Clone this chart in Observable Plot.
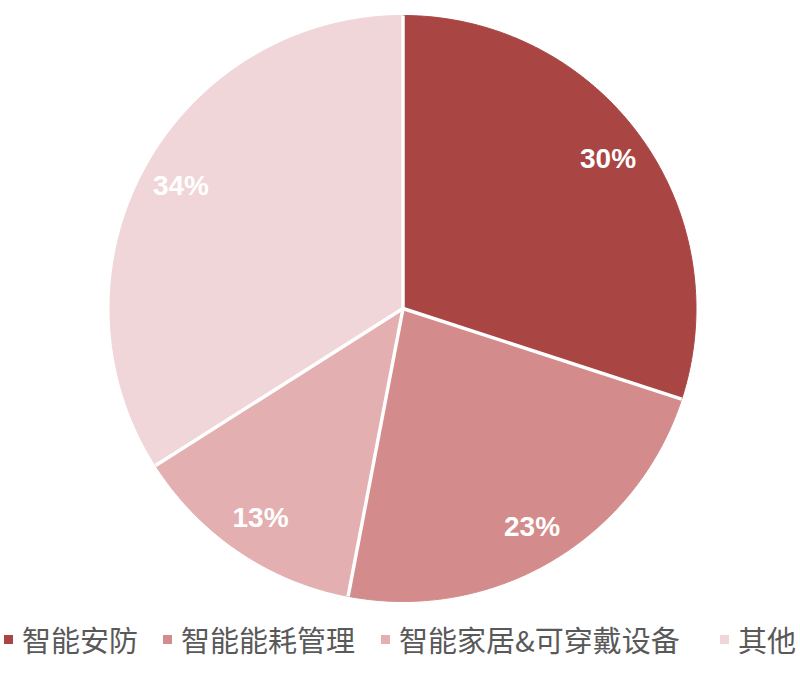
<!DOCTYPE html>
<html><head><meta charset="utf-8">
<script src="https://cdn.jsdelivr.net/npm/d3@7"></script>
<script src="https://cdn.jsdelivr.net/npm/@observablehq/plot@0.6"></script>
<style>
body{margin:0;background:#fff;width:800px;height:674px;position:relative;overflow:hidden}
#legend{position:absolute;top:614px;left:0;width:800px;height:50px;font-family:"Noto Sans CJK SC","Noto Sans",sans-serif;font-size:29px;color:#595959}
.item{position:absolute;top:0;display:flex;align-items:center;height:50px;white-space:nowrap}
.sw{width:9px;height:9px;margin-right:9px;flex:none}
</style></head><body>
<div id="chart"></div><div id="legend"></div>
<script>
const categories = ["智能安防", "智能能耗管理", "智能家居&可穿戴设备", "其他"];
const shares = [30, 23, 13, 34];
const colors = ["#A94543", "#D48B8B", "#E3AFB0", "#F0D6D8"];
const legendLefts = [4, 163, 381, 720];

const data = categories.map((c, i) => ({cat: c, share: shares[i]}));
const arcs = d3.pie().sort(null).value(d => d.share)(data);

// slice outlines from pie angles (x = sin, y = cos: clockwise from 12 o'clock)
const pts = [];
for (const a of arcs) {
  const n = Math.max(2, Math.ceil((a.endAngle - a.startAngle) / (Math.PI / 360)));
  pts.push({cat: a.data.cat, x: 0, y: 0});
  for (let k = 0; k <= n; k++) {
    const t = a.startAngle + (a.endAngle - a.startAngle) * k / n;
    pts.push({cat: a.data.cat, x: Math.sin(t), y: Math.cos(t)});
  }
  pts.push({cat: a.data.cat, x: 0, y: 0});
}
const mid = a => (a.startAngle + a.endAngle) / 2;
const lr = 0.865;

const chart = Plot.plot({
  width: 800,
  height: 612,
  margin: 0,
  x: {domain: [-1, 1], range: [109.5, 695.5], axis: null},
  y: {domain: [-1, 1], range: [601, 15], axis: null},
  color: {domain: categories, range: colors},
  marks: [
    Plot.line(pts, {x: "x", y: "y", z: "cat", fill: "cat", stroke: "cat", strokeWidth: 1, curve: "linear"}),
    Plot.link(arcs, {x1: 0, y1: 0, x2: d => Math.sin(d.startAngle), y2: d => Math.cos(d.startAngle), stroke: "white", strokeWidth: 3.5}),
    Plot.text(arcs, {
      x: d => lr * Math.sin(mid(d)),
      y: d => lr * Math.cos(mid(d)),
      text: d => d.data.share + "%",
      fill: "white",
      fontSize: 28,
      fontWeight: "bold",
      fontFamily: "Liberation Sans, Arial, sans-serif"
    })
  ]
});
document.getElementById("chart").appendChild(chart);

const legend = document.getElementById("legend");
categories.forEach((c, i) => {
  const it = document.createElement("div");
  it.className = "item";
  it.style.left = legendLefts[i] + "px";
  const sw = document.createElement("span");
  sw.className = "sw";
  sw.style.background = colors[i];
  const tx = document.createElement("span");
  tx.textContent = c;
  it.appendChild(sw);
  it.appendChild(tx);
  legend.appendChild(it);
});
</script>
</body></html>
